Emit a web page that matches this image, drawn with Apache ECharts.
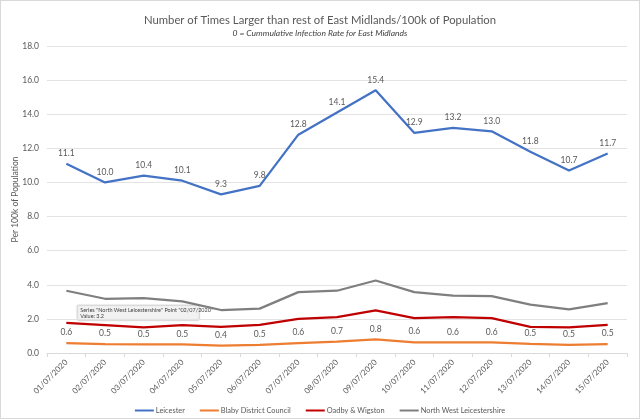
<!DOCTYPE html>
<html><head><meta charset="utf-8">
<script src="https://cdn.jsdelivr.net/npm/echarts@6/dist/echarts.min.js"></script>
<style>html,body{margin:0;padding:0;background:#fff}#c{width:640px;height:419px;box-sizing:border-box;border:1px solid #d9d9d9}</style>
</head><body><div id="c"></div>
<script>
const categories = ['01/07/2020','02/07/2020','03/07/2020','04/07/2020','05/07/2020','06/07/2020','07/07/2020','08/07/2020','09/07/2020','10/07/2020','11/07/2020','12/07/2020','13/07/2020','14/07/2020','15/07/2020'];
const leicester = [11.1,10.0,10.4,10.1,9.3,9.8,12.8,14.1,15.4,12.9,13.2,13.0,11.8,10.7,11.7];
const blaby = [0.58,0.52,0.51,0.5,0.43,0.47,0.58,0.66,0.8,0.63,0.62,0.62,0.54,0.47,0.52];
const oadby = [1.76,1.63,1.5,1.63,1.53,1.65,2.0,2.1,2.5,2.05,2.1,2.05,1.53,1.5,1.65];
const nwLeics = [3.65,3.18,3.22,3.03,2.52,2.6,3.57,3.65,4.25,3.57,3.36,3.34,2.84,2.56,2.93];
const yTicks = {min:0,max:18,interval:2};

const font = 'Lato, "Liberation Sans", sans-serif';
const chart = echarts.init(document.getElementById('c'));
function ser(name, data, color, labels){
  return {name, type:'line', data, symbol:'circle', symbolSize:0.01, showSymbol:true, smooth:false,
    lineStyle:{color, width:2.25}, itemStyle:{color},
    label:{show:labels, position:'top', distance:6, color:'#595959', fontSize:8.5, fontFamily:font,
      formatter:p=>p.value.toFixed(1)}};
}
chart.setOption({
  animation:false,
  title:{text:'Number of Times Larger than rest of East Midlands/100k of Population',
    subtext:'0 = Cummulative Infection Rate for East Midlands', left:'center', top:9, itemGap:3,
    textStyle:{fontSize:11.3, fontWeight:'normal', color:'#595959', fontFamily:font},
    subtextStyle:{fontSize:8.5, fontStyle:'italic', color:'#404040', fontFamily:font}},
  grid:{left:46, right:12, top:45, bottom:65, outerBoundsMode:'none'},
  legend:{top:401, left:'center', itemWidth:19, itemHeight:2, itemGap:15, icon:'rect',
    textStyle:{fontSize:7.4, color:'#595959', fontFamily:font, padding:[0,0,0,-3]},
    data:['Leicester','Blaby District Council','Oadby & Wigston','North West Leicestershire']},
  xAxis:{type:'category', data:categories, boundaryGap:true,
    axisLine:{lineStyle:{color:'#d9d9d9'}}, axisTick:{show:true, length:4, lineStyle:{color:'#d9d9d9'}},
    axisLabel:{rotate:45, fontSize:8, color:'#595959', fontFamily:font, margin:8}},
  yAxis:{type:'value', min:yTicks.min, max:yTicks.max, interval:yTicks.interval,
    name:'Per 100k of Population', nameLocation:'middle', nameGap:27, nameMoveOverlap:false,
    nameTextStyle:{fontSize:8.5, color:'#595959', fontFamily:font},
    axisLine:{show:false}, axisTick:{show:false},
    splitLine:{lineStyle:{color:'#e3e3e3'}},
    axisLabel:{fontSize:8.5, color:'#595959', fontFamily:font, formatter:v=>v.toFixed(1), margin:8}},
  series:[
    ser('Leicester', leicester, '#4472C4', true),
    ser('Blaby District Council', blaby, '#ED7D31', true),
    ser('Oadby & Wigston', oadby, '#C00000', false),
    ser('North West Leicestershire', nwLeics, '#7F7F7F', false)
  ],
  graphic:[{type:'group', left:76, top:304, children:[
    {type:'rect', shape:{x:0,y:0,width:122,height:15,r:1}, style:{fill:'#f2f2f2', stroke:'#bfbfbf', lineWidth:0.5, shadowBlur:2, shadowColor:'rgba(0,0,0,0.15)'}},
    {type:'text', x:3, y:2, style:{text:'Series "North West Leicestershire" Point "02/07/2020"\nValue: 3.2', fontSize:5.5, lineHeight:6, fill:'#404040', fontFamily:font}}
  ]}]
});
</script></body></html>
